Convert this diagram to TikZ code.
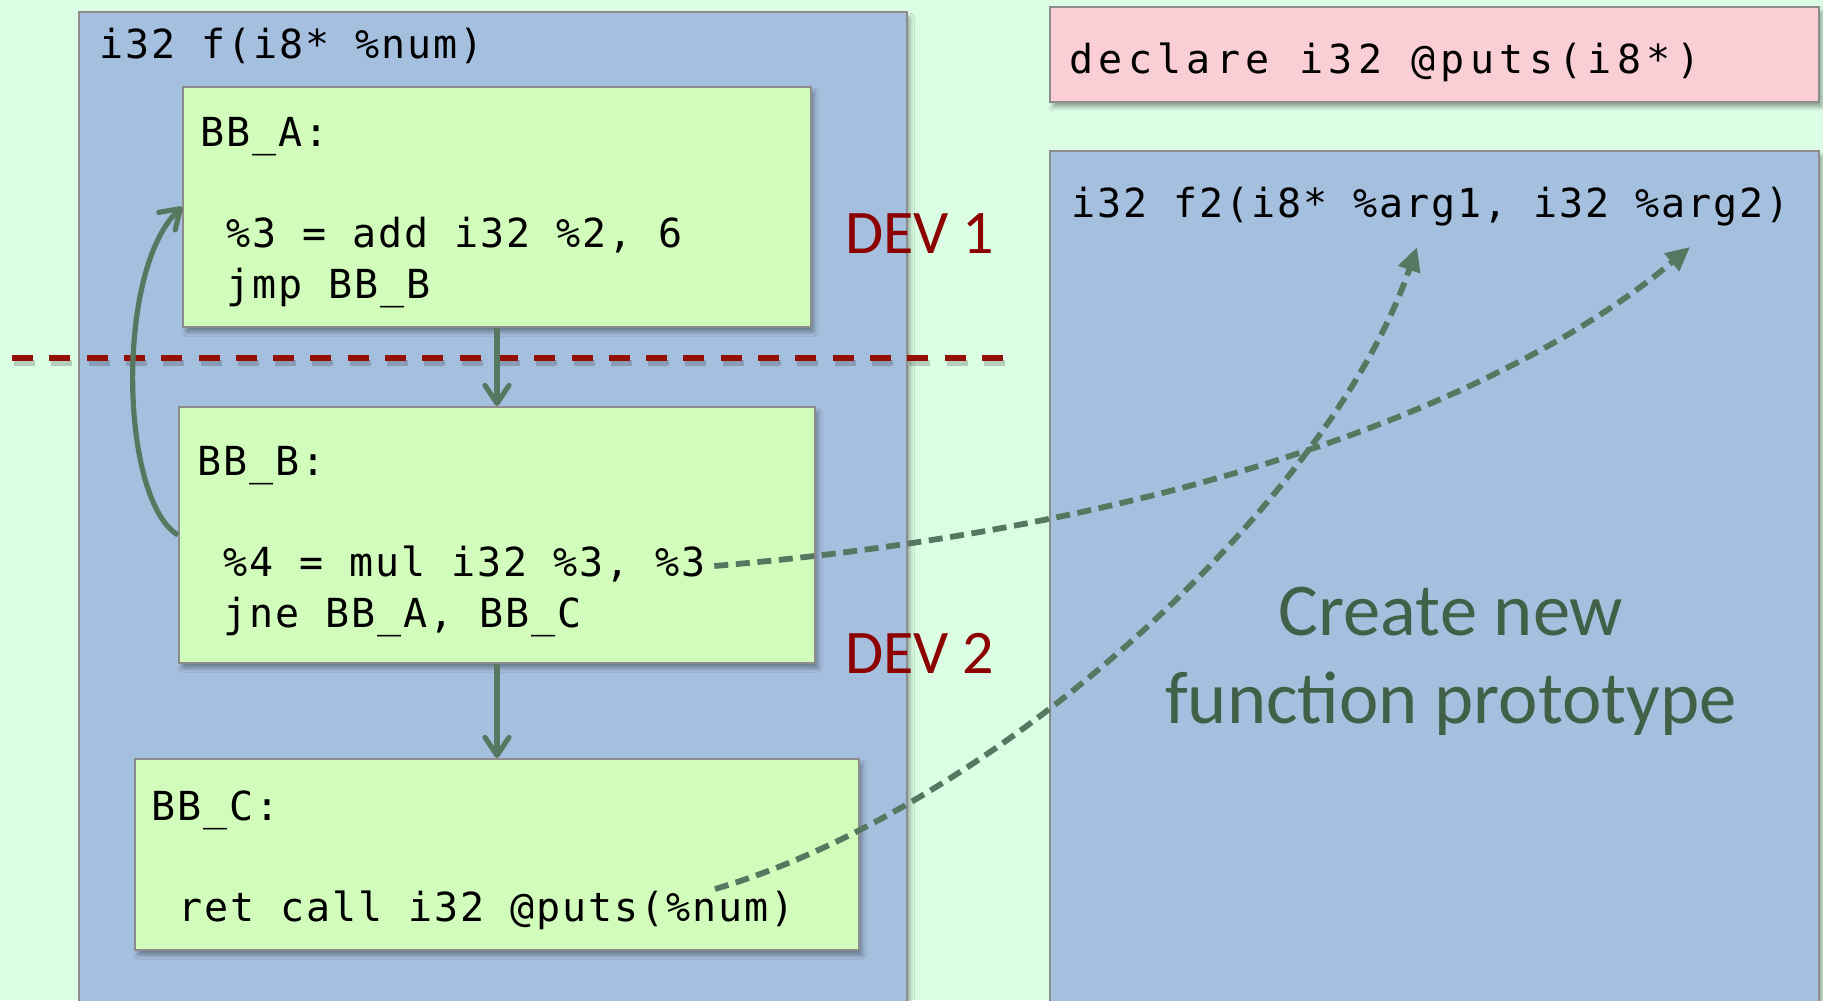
\documentclass[tikz,border=0pt]{standalone}
\usepackage{fontspec}
\usetikzlibrary{arrows.meta,calc,shadows.blur}
\newfontfamily\codefont[LetterSpace=4.8]{DejaVu Sans Mono}
\newfontfamily\declfont[LetterSpace=13.3]{DejaVu Sans Mono}
\newfontfamily\notefont{Carlito}
\definecolor{bgmint}{RGB}{218,253,228}
\definecolor{fnblue}{RGB}{165,191,222}
\definecolor{bbgreen}{RGB}{210,252,187}
\definecolor{declpink}{RGB}{249,206,213}
\definecolor{edgegray}{RGB}{140,140,140}
\definecolor{flowgreen}{RGB}{86,120,96}
\definecolor{notegreen}{RGB}{64,97,71}
\definecolor{devred}{RGB}{140,0,0}
\definecolor{splitred}{RGB}{148,16,6}
\begin{document}
\begin{tikzpicture}[x=0.5pt,y=-0.5pt,
  panel/.style={draw=edgegray, line width=1pt, rectangle, inner sep=0pt,
    blur shadow={shadow xshift=1.5pt, shadow yshift=-2.5pt,
                 shadow blur radius=2pt, shadow opacity=35}},
  fnpanel/.style={panel, fill=fnblue},
  bbpanel/.style={panel, fill=bbgreen},
  declpanel/.style={panel, fill=declpink},
  code/.style={font=\codefont\fontsize{20pt}{25pt}\selectfont, inner sep=0pt, anchor=base west},
  decl/.style={font=\declfont\fontsize{20pt}{25pt}\selectfont, inner sep=0pt, anchor=base west},
  dev/.style={font=\notefont\fontsize{31pt}{36pt}\selectfont, text=devred, inner sep=0pt, anchor=base west},
  note/.style={font=\notefont\fontsize{37.3pt}{44pt}\selectfont, text=notegreen, inner sep=0pt, anchor=base},
  flow/.style={draw=flowgreen, line width=2.6pt, -{Straight Barb[length=9pt,width=12pt,round]}},
  argmap/.style={draw=flowgreen, line width=2.9pt, dash pattern=on 7pt off 3.8pt,
    -{Triangle[length=12pt,width=11pt]}},
]
% canvas
\fill[bgmint] (0,0) rectangle (1823,1000);
\useasboundingbox (0,0) rectangle (1823,1000);

% function bodies and declaration
\node[fnpanel, minimum width=414pt, minimum height=500pt] (fn) at (493,512) {};
\node[declpanel, minimum width=384.5pt, minimum height=47.5pt] (decl) at (1434.5,54.5) {};
\node[fnpanel, minimum width=384.5pt, minimum height=429.5pt] (fnnew) at (1434.5,580.5) {};

% basic blocks
\node[bbpanel, minimum width=314pt, minimum height=120pt] (bbA) at (497,207) {};
\node[bbpanel, minimum width=318pt, minimum height=128pt] (bbB) at (497,535) {};
\node[bbpanel, minimum width=362pt, minimum height=95.5pt] (bbC) at (497,854.5) {};

% device split
\coordinate (splitL) at (12,358);
\coordinate (splitR) at (1003,358);
\draw[black, opacity=0.18, line width=3pt, dash pattern=on 10.5pt off 8.15pt,
      transform canvas={shift={(1pt,-2.5pt)}}] (splitL) -- (splitR);
\draw[splitred, line width=2.85pt, dash pattern=on 10.5pt off 8.15pt] (splitL) -- (splitR);

% texts
\node[code] (fsig) at (99,59) {i32 f(i8* \%num)};
\node[code] (la) at (200,147) {BB\_A:};
\node[code] (a1) at (226,248) {\%3 = add i32 \%2, 6};
\node[code] (a2) at (226,298) {jmp BB\_B};
\node[code] (lb) at (197,475) {BB\_B:};
\node[code] (b1) at (223,576) {\%4 = mul i32 \%3, \%3};
\node[code] (b2) at (223,627) {jne BB\_A, BB\_C};
\node[code] (lc) at (151,820) {BB\_C:};
\node[code] (c1) at (178,921) {ret call i32 @puts(\%num)};
\node[decl] (dtext) at (1069,74) {declare i32 @puts(i8*)};
\node[code] (f2sig) at (1071,218) {i32 f2(i8* \%arg1, i32 \%arg2)};

\node[dev] (dev1) at (845,253) {DEV 1};
\node[dev] (dev2) at (845,673) {DEV 2};
\node[note] (note1) at (1451,635) {Create new};
\node[note] (note2) at (1451,723) {function prototype};

% control flow
\draw[flow] (bbA.south) -- (bbB.north);
\draw[flow] (bbB.south) -- (bbC.north);
\draw[flow] (bbB.west) .. controls (120,500) and (115,270) .. (bbA.west);

% values becoming arguments of the new function
\coordinate (mulres) at ($(b1.base east)+(8,-10)$);
\coordinate (numarg) at ($(c1.base west)+(537,-32)$);
\coordinate (arg1) at (1417,247);
\coordinate (arg2) at (1690,247);
\draw[argmap] (mulres) .. controls (1200,525) and (1520,390) .. (arg2);
\draw[argmap] (numarg) .. controls (1000,805) and (1330,500) .. (arg1);
\end{tikzpicture}
\end{document}
